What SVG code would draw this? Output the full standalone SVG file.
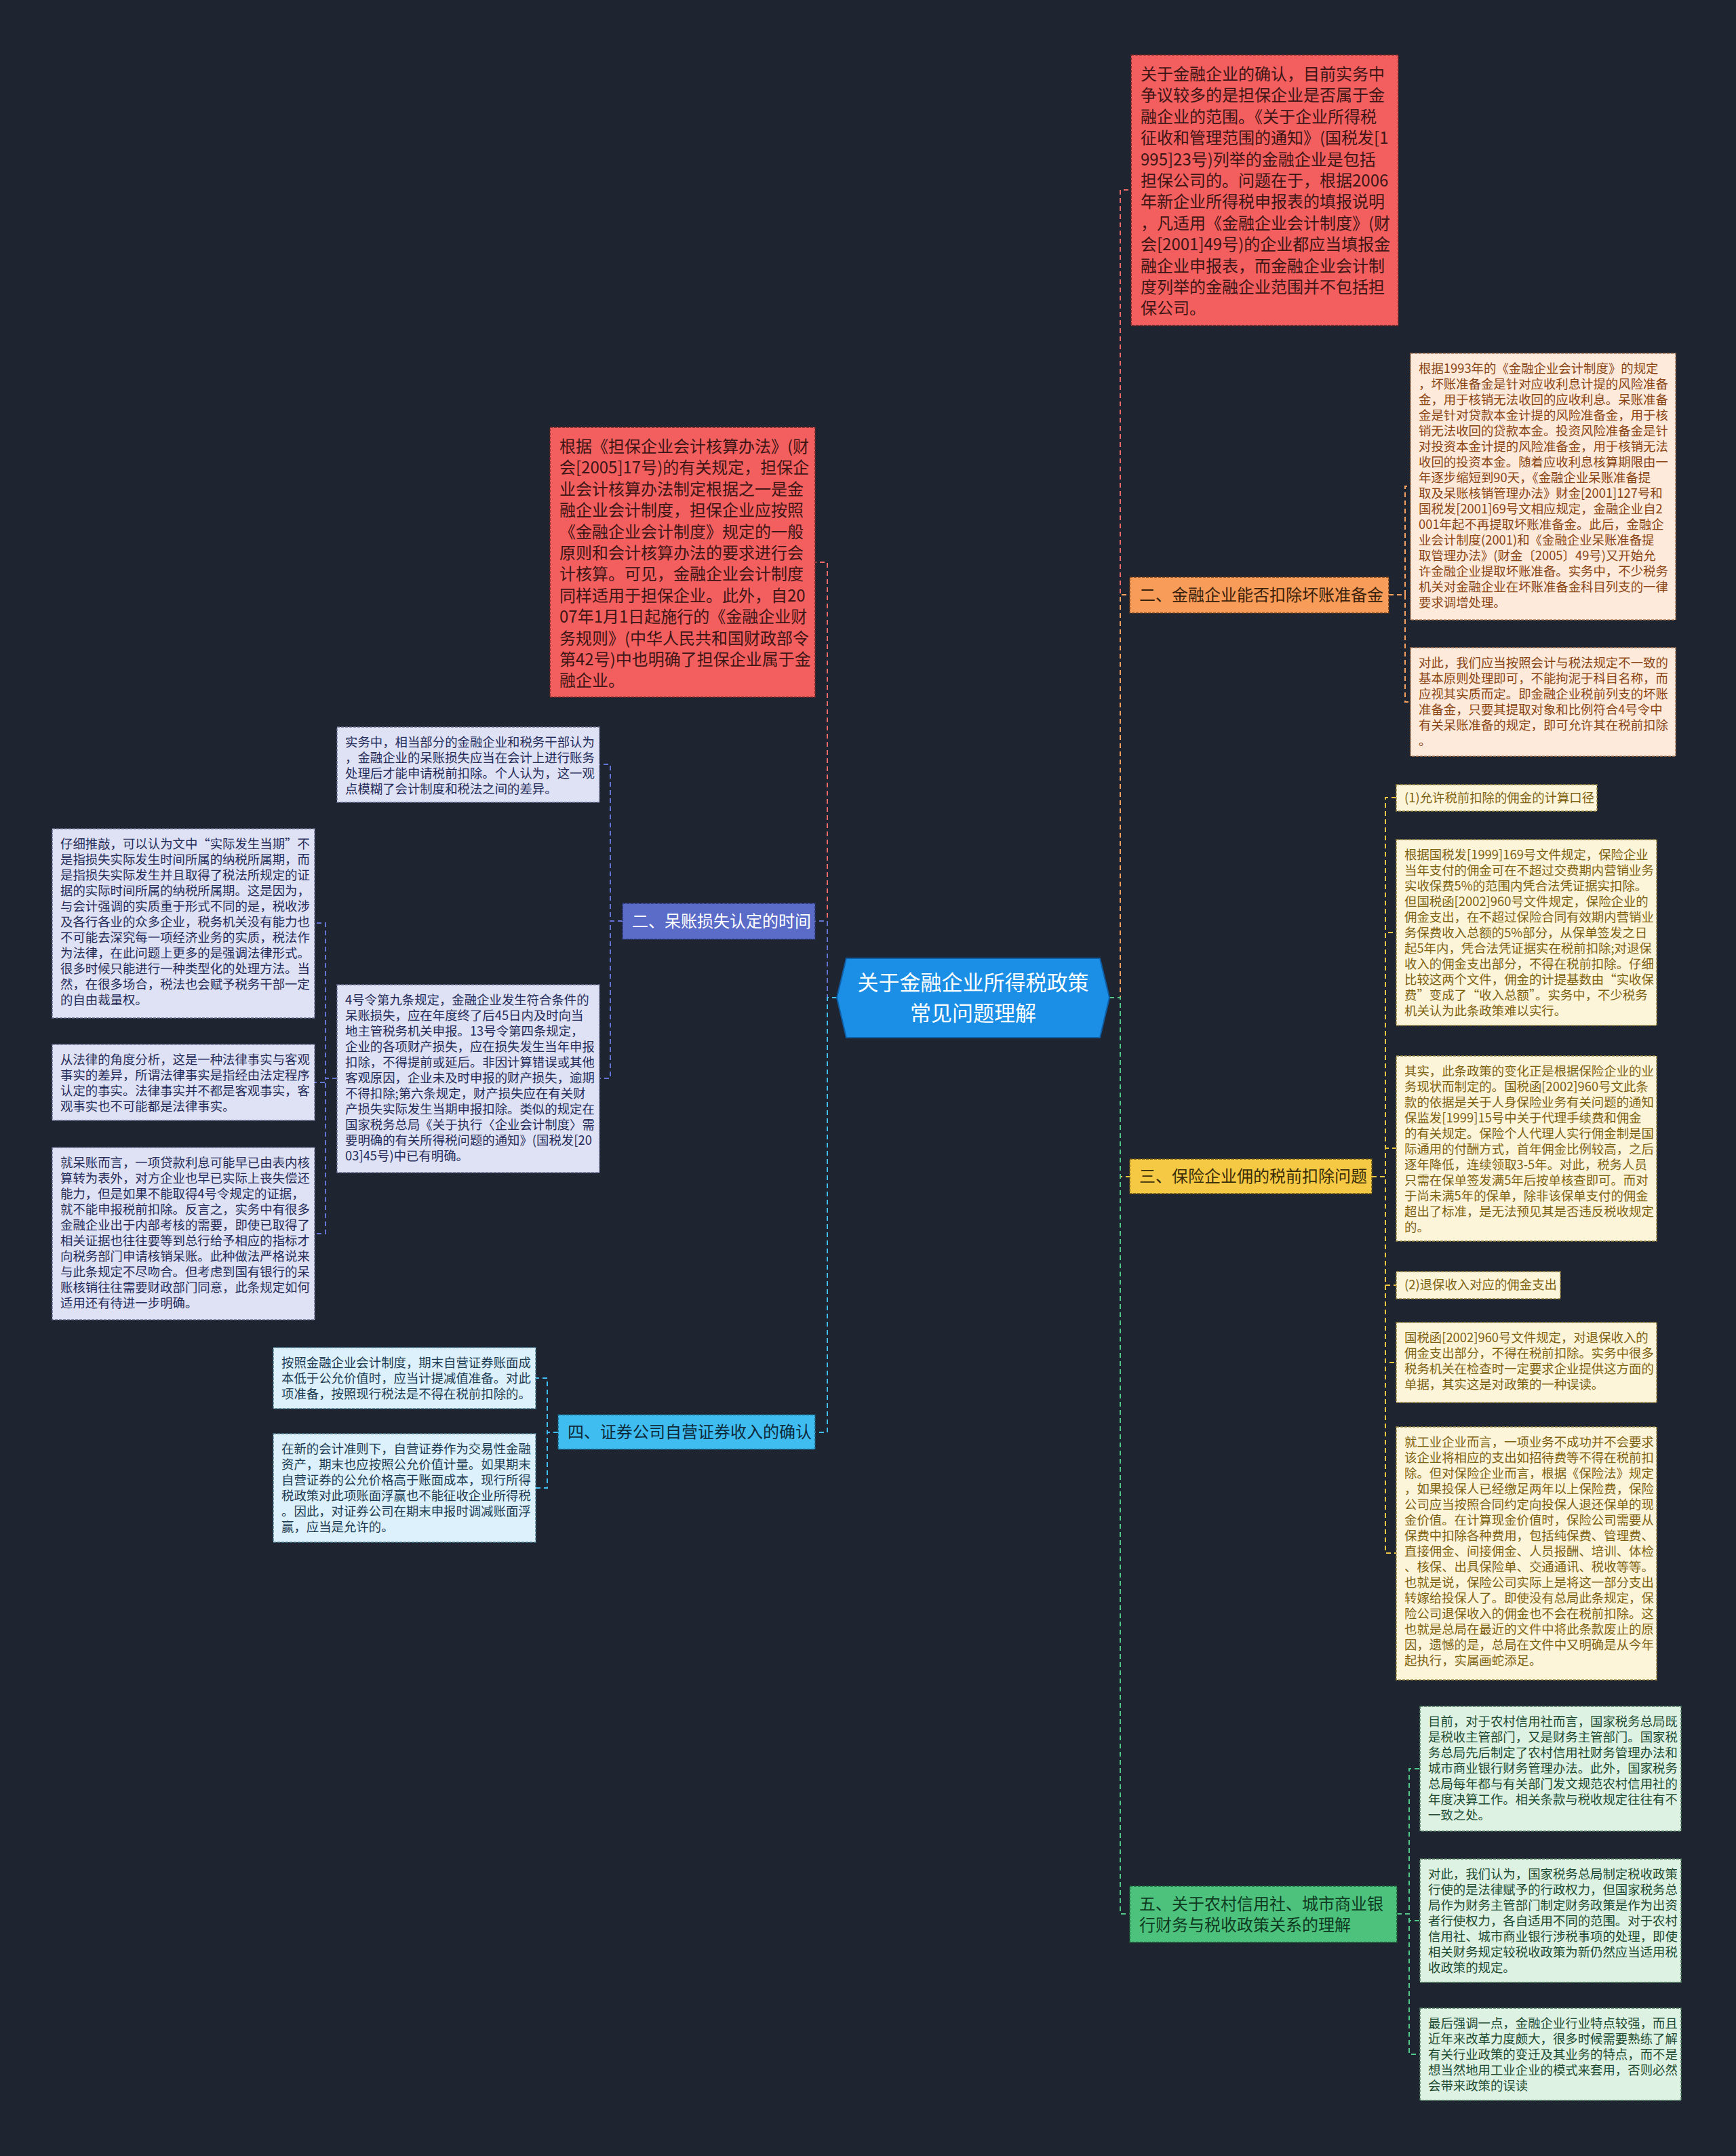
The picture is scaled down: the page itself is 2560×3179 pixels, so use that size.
<svg xmlns="http://www.w3.org/2000/svg" width="2560" height="3179" viewBox="0 0 2560 3179">
<style>
text{font-family:"Noto Sans CJK SC","Noto Sans",sans-serif;}
.s18{font-size:18.4px;}
.s24{font-size:24px;}
.s31{font-size:31px;}
.box{stroke-width:1.5;stroke-dasharray:4 2;}
.con{fill:none;stroke-width:2;stroke-dasharray:7 5;}
.red{fill:#f35e5e;stroke:#6a2626;}
.tRed{fill:#3e1616;}
.orL{fill:#f89c59;stroke:#6a3a18;}
.tOrL{fill:#3a210c;}
.orB{fill:#fdeadb;stroke:#a87450;}
.tOr{fill:#8a4515;}
.yeL{fill:#f6c944;stroke:#6a5518;}
.tYeL{fill:#3a2e08;}
.yeB{fill:#fdf5da;stroke:#9a8540;}
.tYe{fill:#7d6212;}
.grL{fill:#4cc27d;stroke:#1d5a34;}
.tGrL{fill:#0f3a1f;}
.grB{fill:#def2e4;stroke:#4f7a5d;}
.tGr{fill:#1d4a30;}
.puL{fill:#5b6bc8;stroke:#2a3470;}
.tPuL{fill:#ffffff;}
.puB{fill:#dee2f4;stroke:#6a7090;}
.tPu{fill:#262c5a;}
.blL{fill:#3fbdf1;stroke:#1a5a78;}
.tBlL{fill:#0e2a3a;}
.blB{fill:#dcf1fb;stroke:#4f7d92;}
.tBl{fill:#1c3b52;}
</style>
<rect x="0" y="0" width="2560" height="3179" fill="#1f2431"/>

<g id="connectors">
<path class="con" stroke="#f06a6a" d="M1234,1471 H1220 V829 H1202"/>
<path class="con" stroke="#6474d4" d="M1234,1471 H1220 V1358 H1202"/>
<path class="con" stroke="#40bff5" d="M1234,1471 H1220 V2112 H1202"/>
<path class="con" stroke="#f06a6a" d="M1636,1471 H1652 V280 H1668"/>
<path class="con" stroke="#f8a060" d="M1636,1471 H1652 V877 H1666"/>
<path class="con" stroke="#f0c840" d="M1636,1471 H1652 V1735 H1666"/>
<path class="con" stroke="#50c887" d="M1636,1471 H1652 V2822 H1666"/>
<path class="con" stroke="#f8a060" d="M2048,877 H2072 V717 H2080"/>
<path class="con" stroke="#f8a060" d="M2048,877 H2072 V1035 H2080"/>
<path class="con" stroke="#f0c840" d="M2023,1735 H2043 V1176 H2059"/>
<path class="con" stroke="#f0c840" d="M2023,1735 H2043 V1375 H2059"/>
<path class="con" stroke="#f0c840" d="M2023,1735 H2043 V1693 H2059"/>
<path class="con" stroke="#f0c840" d="M2023,1735 H2043 V1895 H2059"/>
<path class="con" stroke="#f0c840" d="M2023,1735 H2043 V2009 H2059"/>
<path class="con" stroke="#f0c840" d="M2023,1735 H2043 V2290 H2059"/>
<path class="con" stroke="#50c887" d="M2060,2822 H2078 V2608 H2094"/>
<path class="con" stroke="#50c887" d="M2060,2822 H2078 V2832 H2094"/>
<path class="con" stroke="#50c887" d="M2060,2822 H2078 V3029 H2094"/>
<path class="con" stroke="#6474d4" d="M918,1358 H900 V1127 H884"/>
<path class="con" stroke="#6474d4" d="M918,1358 H900 V1590 H884"/>
<path class="con" stroke="#6474d4" d="M497,1590 H480 V1361 H464"/>
<path class="con" stroke="#6474d4" d="M497,1590 H480 V1596 H464"/>
<path class="con" stroke="#6474d4" d="M497,1590 H480 V1819 H464"/>
<path class="con" stroke="#40bff5" d="M823,2112 H807 V2032 H790"/>
<path class="con" stroke="#40bff5" d="M823,2112 H807 V2194 H790"/>
</g>

<g id="center">
<polygon points="1234,1471 1248,1413 1622,1413 1636,1471 1622,1530 1248,1530" fill="#1b8fe6" stroke="#0f5fa6" stroke-width="2"/>
<text class="s31" fill="#ffffff" text-anchor="middle"><tspan x="1435" y="1460">关于金融企业所得税政策</tspan><tspan x="1435" y="1505">常见问题理解</tspan></text>
</g>

<g id="r1">
<rect class="box red" x="1668" y="81" width="394" height="399"/>
<text class="s24 tRed">
<tspan x="1682" y="118">关于金融企业的确认，目前实务中</tspan>
<tspan x="1682" y="149.4">争议较多的是担保企业是否属于金</tspan>
<tspan x="1682" y="180.8">融企业的范围。《关于企业所得税</tspan>
<tspan x="1682" y="212.2">征收和管理范围的通知》(国税发[1</tspan>
<tspan x="1682" y="243.6">995]23号)列举的金融企业是包括</tspan>
<tspan x="1682" y="275">担保公司的。问题在于，根据2006</tspan>
<tspan x="1682" y="306.4">年新企业所得税申报表的填报说明</tspan>
<tspan x="1682" y="337.8">，凡适用《金融企业会计制度》(财</tspan>
<tspan x="1682" y="369.2">会[2001]49号)的企业都应当填报金</tspan>
<tspan x="1682" y="400.6">融企业申报表，而金融企业会计制</tspan>
<tspan x="1682" y="432">度列举的金融企业范围并不包括担</tspan>
<tspan x="1682" y="463.4">保公司。</tspan>
</text>
</g>

<g id="orange-label">
<rect class="box orL" x="1666" y="851" width="382" height="53"/>
<text class="s24 tOrL" x="1680" y="886">二、金融企业能否扣除坏账准备金</text>
</g>
<g id="orange-a">
<rect class="box orB" x="2080" y="521" width="391" height="393"/>
<text class="s18 tOr">
<tspan x="2092" y="550">根据1993年的《金融企业会计制度》的规定</tspan>
<tspan x="2092" y="573">，坏账准备金是针对应收利息计提的风险准备</tspan>
<tspan x="2092" y="596">金，用于核销无法收回的应收利息。呆账准备</tspan>
<tspan x="2092" y="619">金是针对贷款本金计提的风险准备金，用于核</tspan>
<tspan x="2092" y="642">销无法收回的贷款本金。投资风险准备金是针</tspan>
<tspan x="2092" y="665">对投资本金计提的风险准备金，用于核销无法</tspan>
<tspan x="2092" y="688">收回的投资本金。随着应收利息核算期限由一</tspan>
<tspan x="2092" y="711">年逐步缩短到90天，《金融企业呆账准备提</tspan>
<tspan x="2092" y="734">取及呆账核销管理办法》财金[2001]127号和</tspan>
<tspan x="2092" y="757">国税发[2001]69号文相应规定，金融企业自2</tspan>
<tspan x="2092" y="780">001年起不再提取坏账准备金。此后，金融企</tspan>
<tspan x="2092" y="803">业会计制度(2001)和《金融企业呆账准备提</tspan>
<tspan x="2092" y="826">取管理办法》(财金〔2005〕49号)又开始允</tspan>
<tspan x="2092" y="849">许金融企业提取坏账准备。实务中，不少税务</tspan>
<tspan x="2092" y="872">机关对金融企业在坏账准备金科目列支的一律</tspan>
<tspan x="2092" y="895">要求调增处理。</tspan>
</text>
</g>
<g id="orange-b">
<rect class="box orB" x="2080" y="955" width="391" height="160"/>
<text class="s18 tOr">
<tspan x="2092" y="984">对此，我们应当按照会计与税法规定不一致的</tspan>
<tspan x="2092" y="1007">基本原则处理即可，不能拘泥于科目名称，而</tspan>
<tspan x="2092" y="1030">应视其实质而定。即金融企业税前列支的坏账</tspan>
<tspan x="2092" y="1053">准备金，只要其提取对象和比例符合4号令中</tspan>
<tspan x="2092" y="1076">有关呆账准备的规定，即可允许其在税前扣除</tspan>
<tspan x="2092" y="1099">。</tspan>
</text>
</g>

<g id="yellow-label">
<rect class="box yeL" x="1666" y="1709" width="357" height="51"/>
<text class="s24 tYeL" x="1680" y="1743">三、保险企业佣的税前扣除问题</text>
</g>
<g id="y1">
<rect class="box yeB" x="2059" y="1157" width="296" height="39"/>
<text class="s18 tYe" x="2071" y="1183">(1)允许税前扣除的佣金的计算口径</text>
</g>
<g id="y2">
<rect class="box yeB" x="2059" y="1238" width="384" height="274"/>
<text class="s18 tYe">
<tspan x="2071" y="1267">根据国税发[1999]169号文件规定，保险企业</tspan>
<tspan x="2071" y="1290">当年支付的佣金可在不超过交费期内营销业务</tspan>
<tspan x="2071" y="1313">实收保费5%的范围内凭合法凭证据实扣除。</tspan>
<tspan x="2071" y="1336">但国税函[2002]960号文件规定，保险企业的</tspan>
<tspan x="2071" y="1359">佣金支出，在不超过保险合同有效期内营销业</tspan>
<tspan x="2071" y="1382">务保费收入总额的5%部分，从保单签发之日</tspan>
<tspan x="2071" y="1405">起5年内，凭合法凭证据实在税前扣除;对退保</tspan>
<tspan x="2071" y="1428">收入的佣金支出部分，不得在税前扣除。仔细</tspan>
<tspan x="2071" y="1451">比较这两个文件，佣金的计提基数由“实收保</tspan>
<tspan x="2071" y="1474">费”变成了“收入总额”。实务中，不少税务</tspan>
<tspan x="2071" y="1497">机关认为此条政策难以实行。</tspan>
</text>
</g>
<g id="y3">
<rect class="box yeB" x="2059" y="1557" width="384" height="273"/>
<text class="s18 tYe">
<tspan x="2071" y="1586">其实，此条政策的变化正是根据保险企业的业</tspan>
<tspan x="2071" y="1609">务现状而制定的。国税函[2002]960号文此条</tspan>
<tspan x="2071" y="1632">款的依据是关于人身保险业务有关问题的通知</tspan>
<tspan x="2071" y="1655">保监发[1999]15号中关于代理手续费和佣金</tspan>
<tspan x="2071" y="1678">的有关规定。保险个人代理人实行佣金制是国</tspan>
<tspan x="2071" y="1701">际通用的付酬方式，首年佣金比例较高，之后</tspan>
<tspan x="2071" y="1724">逐年降低，连续领取3-5年。对此，税务人员</tspan>
<tspan x="2071" y="1747">只需在保单签发满5年后按单核查即可。而对</tspan>
<tspan x="2071" y="1770">于尚未满5年的保单，除非该保单支付的佣金</tspan>
<tspan x="2071" y="1793">超出了标准，是无法预见其是否违反税收规定</tspan>
<tspan x="2071" y="1816">的。</tspan>
</text>
</g>
<g id="y4">
<rect class="box yeB" x="2059" y="1875" width="242" height="40"/>
<text class="s18 tYe" x="2071" y="1901">(2)退保收入对应的佣金支出</text>
</g>
<g id="y5">
<rect class="box yeB" x="2059" y="1950" width="384" height="118"/>
<text class="s18 tYe">
<tspan x="2071" y="1979">国税函[2002]960号文件规定，对退保收入的</tspan>
<tspan x="2071" y="2002">佣金支出部分，不得在税前扣除。实务中很多</tspan>
<tspan x="2071" y="2025">税务机关在检查时一定要求企业提供这方面的</tspan>
<tspan x="2071" y="2048">单据，其实这是对政策的一种误读。</tspan>
</text>
</g>
<g id="y6">
<rect class="box yeB" x="2059" y="2104" width="384" height="373"/>
<text class="s18 tYe">
<tspan x="2071" y="2133">就工业企业而言，一项业务不成功并不会要求</tspan>
<tspan x="2071" y="2156">该企业将相应的支出如招待费等不得在税前扣</tspan>
<tspan x="2071" y="2179">除。但对保险企业而言，根据《保险法》规定</tspan>
<tspan x="2071" y="2202">，如果投保人已经缴足两年以上保险费，保险</tspan>
<tspan x="2071" y="2225">公司应当按照合同约定向投保人退还保单的现</tspan>
<tspan x="2071" y="2248">金价值。在计算现金价值时，保险公司需要从</tspan>
<tspan x="2071" y="2271">保费中扣除各种费用，包括纯保费、管理费、</tspan>
<tspan x="2071" y="2294">直接佣金、间接佣金、人员报酬、培训、体检</tspan>
<tspan x="2071" y="2317">、核保、出具保险单、交通通讯、税收等等。</tspan>
<tspan x="2071" y="2340">也就是说，保险公司实际上是将这一部分支出</tspan>
<tspan x="2071" y="2363">转嫁给投保人了。即使没有总局此条规定，保</tspan>
<tspan x="2071" y="2386">险公司退保收入的佣金也不会在税前扣除。这</tspan>
<tspan x="2071" y="2409">也就是总局在最近的文件中将此条款废止的原</tspan>
<tspan x="2071" y="2432">因，遗憾的是，总局在文件中又明确是从今年</tspan>
<tspan x="2071" y="2455">起执行，实属画蛇添足。</tspan>
</text>
</g>

<g id="green-label">
<rect class="box grL" x="1666" y="2781" width="394" height="83"/>
<text class="s24 tGrL"><tspan x="1680" y="2816">五、关于农村信用社、城市商业银</tspan><tspan x="1680" y="2847">行财务与税收政策关系的理解</tspan></text>
</g>
<g id="g1">
<rect class="box grB" x="2094" y="2516" width="385" height="184"/>
<text class="s18 tGr">
<tspan x="2106" y="2545">目前，对于农村信用社而言，国家税务总局既</tspan>
<tspan x="2106" y="2568">是税收主管部门，又是财务主管部门。国家税</tspan>
<tspan x="2106" y="2591">务总局先后制定了农村信用社财务管理办法和</tspan>
<tspan x="2106" y="2614">城市商业银行财务管理办法。此外，国家税务</tspan>
<tspan x="2106" y="2637">总局每年都与有关部门发文规范农村信用社的</tspan>
<tspan x="2106" y="2660">年度决算工作。相关条款与税收规定往往有不</tspan>
<tspan x="2106" y="2683">一致之处。</tspan>
</text>
</g>
<g id="g2">
<rect class="box grB" x="2094" y="2741" width="385" height="182"/>
<text class="s18 tGr">
<tspan x="2106" y="2770">对此，我们认为，国家税务总局制定税收政策</tspan>
<tspan x="2106" y="2793">行使的是法律赋予的行政权力，但国家税务总</tspan>
<tspan x="2106" y="2816">局作为财务主管部门制定财务政策是作为出资</tspan>
<tspan x="2106" y="2839">者行使权力，各自适用不同的范围。对于农村</tspan>
<tspan x="2106" y="2862">信用社、城市商业银行涉税事项的处理，即使</tspan>
<tspan x="2106" y="2885">相关财务规定较税收政策为新仍然应当适用税</tspan>
<tspan x="2106" y="2908">收政策的规定。</tspan>
</text>
</g>
<g id="g3">
<rect class="box grB" x="2094" y="2961" width="385" height="136"/>
<text class="s18 tGr">
<tspan x="2106" y="2990">最后强调一点，金融企业行业特点较强，而且</tspan>
<tspan x="2106" y="3013">近年来改革力度颇大，很多时候需要熟练了解</tspan>
<tspan x="2106" y="3036">有关行业政策的变迁及其业务的特点，而不是</tspan>
<tspan x="2106" y="3059">想当然地用工业企业的模式来套用，否则必然</tspan>
<tspan x="2106" y="3082">会带来政策的误读</tspan>
</text>
</g>

<g id="r2">
<rect class="box red" x="811" y="630" width="391" height="398"/>
<text class="s24 tRed">
<tspan x="825" y="667">根据《担保企业会计核算办法》(财</tspan>
<tspan x="825" y="698.4">会[2005]17号)的有关规定，担保企</tspan>
<tspan x="825" y="729.8">业会计核算办法制定根据之一是金</tspan>
<tspan x="825" y="761.2">融企业会计制度，担保企业应按照</tspan>
<tspan x="825" y="792.6">《金融企业会计制度》规定的一般</tspan>
<tspan x="825" y="824">原则和会计核算办法的要求进行会</tspan>
<tspan x="825" y="855.4">计核算。可见，金融企业会计制度</tspan>
<tspan x="825" y="886.8">同样适用于担保企业。此外，自20</tspan>
<tspan x="825" y="918.2">07年1月1日起施行的《金融企业财</tspan>
<tspan x="825" y="949.6">务规则》(中华人民共和国财政部令</tspan>
<tspan x="825" y="981">第42号)中也明确了担保企业属于金</tspan>
<tspan x="825" y="1012.4">融企业。</tspan>
</text>
</g>

<g id="purple-label">
<rect class="box puL" x="918" y="1332" width="284" height="53"/>
<text class="s24 tPuL" x="932" y="1367">二、呆账损失认定的时间</text>
</g>
<g id="p1">
<rect class="box puB" x="497" y="1072" width="387" height="111"/>
<text class="s18 tPu">
<tspan x="509" y="1101">实务中，相当部分的金融企业和税务干部认为</tspan>
<tspan x="509" y="1124">，金融企业的呆账损失应当在会计上进行账务</tspan>
<tspan x="509" y="1147">处理后才能申请税前扣除。个人认为，这一观</tspan>
<tspan x="509" y="1170">点模糊了会计制度和税法之间的差异。</tspan>
</text>
</g>
<g id="p2">
<rect class="box puB" x="497" y="1452" width="387" height="277"/>
<text class="s18 tPu">
<tspan x="509" y="1481">4号令第九条规定，金融企业发生符合条件的</tspan>
<tspan x="509" y="1504">呆账损失，应在年度终了后45日内及时向当</tspan>
<tspan x="509" y="1527">地主管税务机关申报。13号令第四条规定，</tspan>
<tspan x="509" y="1550">企业的各项财产损失，应在损失发生当年申报</tspan>
<tspan x="509" y="1573">扣除，不得提前或延后。非因计算错误或其他</tspan>
<tspan x="509" y="1596">客观原因，企业未及时申报的财产损失，逾期</tspan>
<tspan x="509" y="1619">不得扣除;第六条规定，财产损失应在有关财</tspan>
<tspan x="509" y="1642">产损失实际发生当期申报扣除。类似的规定在</tspan>
<tspan x="509" y="1665">国家税务总局《关于执行〈企业会计制度〉需</tspan>
<tspan x="509" y="1688">要明确的有关所得税问题的通知》(国税发[20</tspan>
<tspan x="509" y="1711">03]45号)中已有明确。</tspan>
</text>
</g>
<g id="p3">
<rect class="box puB" x="77" y="1222" width="387" height="279"/>
<text class="s18 tPu">
<tspan x="89" y="1251">仔细推敲，可以认为文中“实际发生当期”不</tspan>
<tspan x="89" y="1274">是指损失实际发生时间所属的纳税所属期，而</tspan>
<tspan x="89" y="1297">是指损失实际发生并且取得了税法所规定的证</tspan>
<tspan x="89" y="1320">据的实际时间所属的纳税所属期。这是因为，</tspan>
<tspan x="89" y="1343">与会计强调的实质重于形式不同的是，税收涉</tspan>
<tspan x="89" y="1366">及各行各业的众多企业，税务机关没有能力也</tspan>
<tspan x="89" y="1389">不可能去深究每一项经济业务的实质，税法作</tspan>
<tspan x="89" y="1412">为法律，在此问题上更多的是强调法律形式。</tspan>
<tspan x="89" y="1435">很多时候只能进行一种类型化的处理方法。当</tspan>
<tspan x="89" y="1458">然，在很多场合，税法也会赋予税务干部一定</tspan>
<tspan x="89" y="1481">的自由裁量权。</tspan>
</text>
</g>
<g id="p4">
<rect class="box puB" x="77" y="1540" width="387" height="112"/>
<text class="s18 tPu">
<tspan x="89" y="1569">从法律的角度分析，这是一种法律事实与客观</tspan>
<tspan x="89" y="1592">事实的差异，所谓法律事实是指经由法定程序</tspan>
<tspan x="89" y="1615">认定的事实。法律事实并不都是客观事实，客</tspan>
<tspan x="89" y="1638">观事实也不可能都是法律事实。</tspan>
</text>
</g>
<g id="p5">
<rect class="box puB" x="77" y="1692" width="387" height="254"/>
<text class="s18 tPu">
<tspan x="89" y="1721">就呆账而言，一项贷款利息可能早已由表内核</tspan>
<tspan x="89" y="1744">算转为表外，对方企业也早已实际上丧失偿还</tspan>
<tspan x="89" y="1767">能力，但是如果不能取得4号令规定的证据，</tspan>
<tspan x="89" y="1790">就不能申报税前扣除。反言之，实务中有很多</tspan>
<tspan x="89" y="1813">金融企业出于内部考核的需要，即使已取得了</tspan>
<tspan x="89" y="1836">相关证据也往往要等到总行给予相应的指标才</tspan>
<tspan x="89" y="1859">向税务部门申请核销呆账。此种做法严格说来</tspan>
<tspan x="89" y="1882">与此条规定不尽吻合。但考虑到国有银行的呆</tspan>
<tspan x="89" y="1905">账核销往往需要财政部门同意，此条规定如何</tspan>
<tspan x="89" y="1928">适用还有待进一步明确。</tspan>
</text>
</g>

<g id="blue-label">
<rect class="box blL" x="823" y="2086" width="379" height="51"/>
<text class="s24 tBlL" x="837" y="2120">四、证券公司自营证券收入的确认</text>
</g>
<g id="b1">
<rect class="box blB" x="403" y="1987" width="387" height="90"/>
<text class="s18 tBl">
<tspan x="415" y="2016">按照金融企业会计制度，期末自营证券账面成</tspan>
<tspan x="415" y="2039">本低于公允价值时，应当计提减值准备。对此</tspan>
<tspan x="415" y="2062">项准备，按照现行税法是不得在税前扣除的。</tspan>
</text>
</g>
<g id="b2">
<rect class="box blB" x="403" y="2114" width="387" height="160"/>
<text class="s18 tBl">
<tspan x="415" y="2143">在新的会计准则下，自营证券作为交易性金融</tspan>
<tspan x="415" y="2166">资产，期末也应按照公允价值计量。如果期末</tspan>
<tspan x="415" y="2189">自营证券的公允价格高于账面成本，现行所得</tspan>
<tspan x="415" y="2212">税政策对此项账面浮赢也不能征收企业所得税</tspan>
<tspan x="415" y="2235">。因此，对证券公司在期末申报时调减账面浮</tspan>
<tspan x="415" y="2258">赢，应当是允许的。</tspan>
</text>
</g>
</svg>
